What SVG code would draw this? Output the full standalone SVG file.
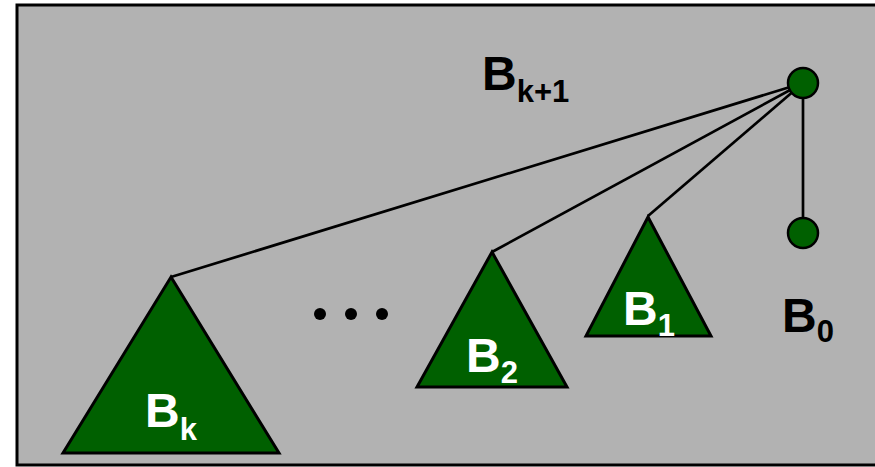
<svg xmlns="http://www.w3.org/2000/svg" width="875" height="467" viewBox="0 0 875 467">
<style>
.tri{fill:#006000;stroke:#000;stroke-width:3;stroke-linejoin:miter}
.nd{fill:#006000;stroke:#000;stroke-width:2.5}
.edge{stroke:#000;stroke-width:2.7;fill:none}
.lbl{font-family:"Liberation Sans",Arial,sans-serif;font-weight:bold;font-size:48px}
.sub{font-size:31px}
.w{fill:#fff}
.k{fill:#000}
</style>
<rect x="17" y="5" width="870" height="460" fill="#b2b2b2" stroke="#000" stroke-width="3"/>
<g id="connectors">
<line class="edge" x1="803" y1="83" x2="171" y2="277"/>
<line class="edge" x1="803" y1="83" x2="492" y2="252"/>
<line class="edge" x1="803" y1="83" x2="648" y2="216"/>
<line class="edge" x1="803" y1="83" x2="803" y2="233"/>
</g>
<g id="root">
<circle class="nd" cx="803" cy="83" r="15"/>
<text class="lbl k" x="482" y="90">B<tspan class="sub" dy="12">k+1</tspan></text>
</g>
<g id="B0">
<circle class="nd" cx="803" cy="233" r="15"/>
<text class="lbl k" x="782" y="332">B<tspan class="sub" dy="10">0</tspan></text>
</g>
<g id="Bk">
<polygon class="tri" points="171,277 279,453 63,453"/>
<text class="lbl w" x="145" y="427">B<tspan class="sub" dy="13">k</tspan></text>
</g>
<g id="B2">
<polygon class="tri" points="492,252 567,387 417,387"/>
<text class="lbl w" x="466" y="372">B<tspan class="sub" dy="11">2</tspan></text>
</g>
<g id="B1">
<polygon class="tri" points="648,217 711,336 586,336"/>
<text class="lbl w" x="623" y="325">B<tspan class="sub" dy="11">1</tspan></text>
</g>
<g id="ellipsis">
<circle cx="320" cy="314" r="6" fill="#000"/>
<circle cx="351" cy="314" r="6" fill="#000"/>
<circle cx="382" cy="314" r="6" fill="#000"/>
</g>
</svg>
